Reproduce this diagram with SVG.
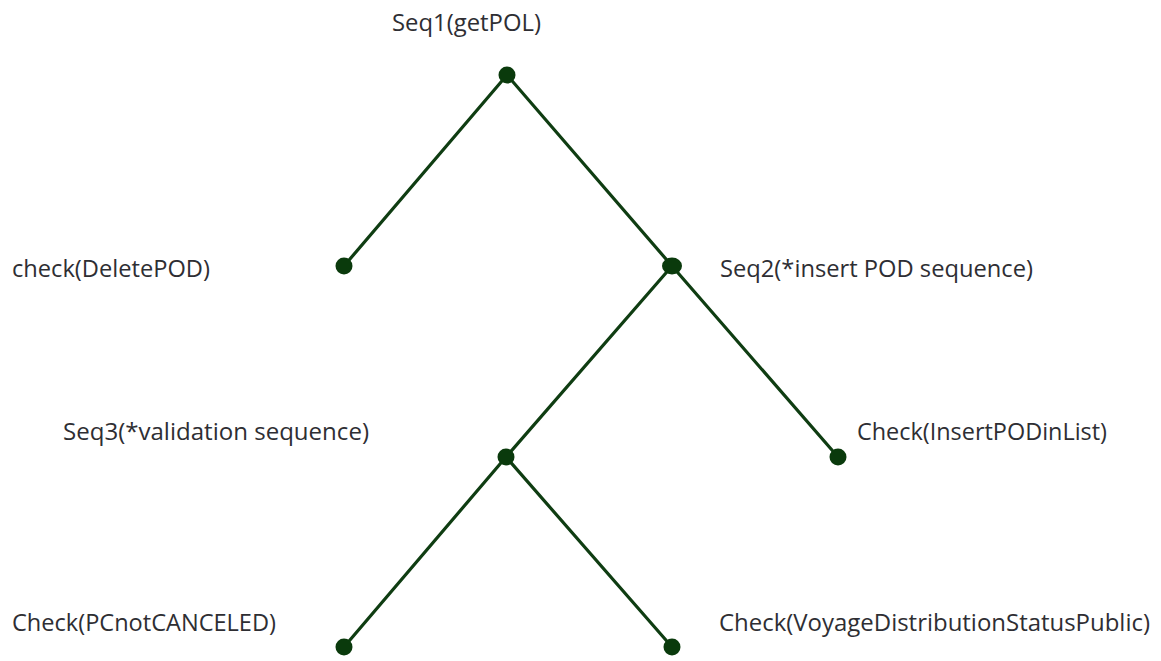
<svg xmlns="http://www.w3.org/2000/svg" width="1161" height="661" viewBox="0 0 1161 661">
<style>
.lbl{font-family:"Open Sans","Liberation Sans",sans-serif;font-size:23.5px;fill:#2e2e33;}
.edge{stroke:#0f3d12;stroke-width:3.2;fill:none;stroke-linecap:round;}
.dot{fill:#0a3a0c;}
</style>
<rect width="1161" height="661" fill="#ffffff"/>
<g id="connectors">
<line class="edge" x1="507" y1="75" x2="344" y2="266"/>
<line class="edge" x1="507" y1="75" x2="672" y2="266"/>
<line class="edge" x1="672" y1="266" x2="506" y2="457"/>
<line class="edge" x1="672" y1="266" x2="838" y2="457"/>
<line class="edge" x1="506" y1="457" x2="344" y2="647"/>
<line class="edge" x1="506" y1="457" x2="672" y2="647"/>
</g>
<g id="seq1"><circle class="dot" cx="507" cy="75" r="8.5"/><text class="lbl" x="392" y="31" textLength="149" lengthAdjust="spacingAndGlyphs">Seq1(getPOL)</text></g>
<g id="deletePOD"><circle class="dot" cx="344" cy="266" r="8.5"/><text class="lbl" x="12" y="277" textLength="198" lengthAdjust="spacingAndGlyphs">check(DeletePOD)</text></g>
<g id="seq2"><ellipse class="dot" cx="672" cy="266" rx="10" ry="8.5"/><text class="lbl" x="720" y="277" textLength="313" lengthAdjust="spacingAndGlyphs">Seq2(*insert POD sequence)</text></g>
<g id="seq3"><circle class="dot" cx="506" cy="457" r="8.5"/><text class="lbl" x="63" y="440" textLength="306" lengthAdjust="spacingAndGlyphs">Seq3(*validation sequence)</text></g>
<g id="insertPODinList"><circle class="dot" cx="838" cy="457" r="8.5"/><text class="lbl" x="857" y="440" textLength="250" lengthAdjust="spacingAndGlyphs">Check(InsertPODinList)</text></g>
<g id="pcNotCanceled"><circle class="dot" cx="344" cy="647" r="8.5"/><text class="lbl" x="12" y="631" textLength="264" lengthAdjust="spacingAndGlyphs">Check(PCnotCANCELED)</text></g>
<g id="voyageStatus"><circle class="dot" cx="672" cy="647" r="8.5"/><text class="lbl" x="719" y="631" textLength="431" lengthAdjust="spacingAndGlyphs">Check(VoyageDistributionStatusPublic)</text></g>
</svg>
